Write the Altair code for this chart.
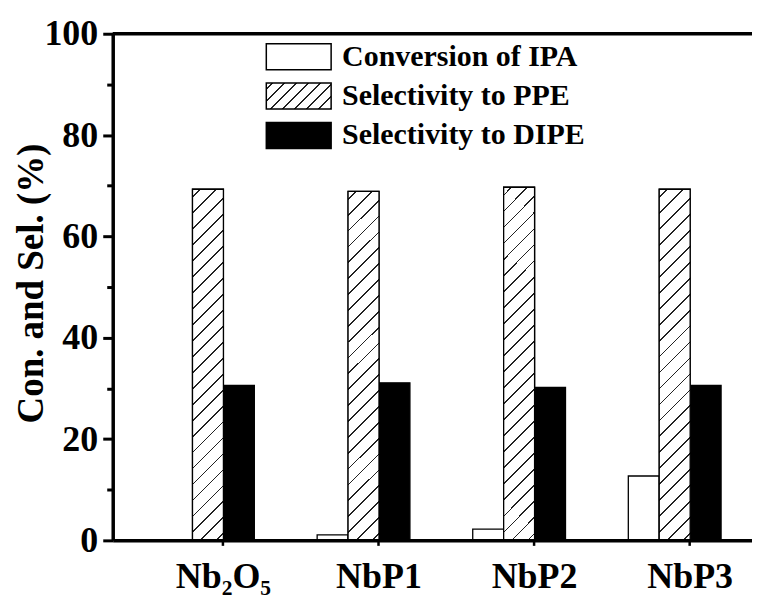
import altair as alt
import pandas as pd

# ---- data ----
categories = ["Nb\u2082O\u2085", "NbP1", "NbP2", "NbP3"]
series_names = ["Conversion of IPA", "Selectivity to PPE", "Selectivity to DIPE"]
conversion_ipa = [0.0, 1.1, 2.2, 12.7]
selectivity_ppe = [69.3, 68.9, 69.7, 69.3]
selectivity_dipe = [30.6, 31.1, 30.2, 30.6]
y_ticks = list(range(0, 101, 10))

rows = []
for vals, name in zip([conversion_ipa, selectivity_ppe, selectivity_dipe], series_names):
    for c, v in zip(categories, vals):
        rows.append({"cat": c, "series": name, "value": v})
df = pd.DataFrame(rows)

FONT = "Liberation Serif"
PLOT_W, PLOT_H = 641, 508


def hatch(w, h, period, line="#222222", half=0.9):
    """Linear gradient (bbox units) that draws 45-degree '/' hatch lines."""
    s = w + h
    k = s / (w * w + h * h)
    stops = [{"offset": 0, "color": "white"}]
    pos = period / 2.0
    while pos < s:
        a = max(0.0, (pos - half) / s)
        b = min(1.0, (pos + half) / s)
        stops += [
            {"offset": round(a, 5), "color": "white"},
            {"offset": round(a, 5), "color": line},
            {"offset": round(b, 5), "color": line},
            {"offset": round(b, 5), "color": "white"},
        ]
        pos += period
    stops.append({"offset": 1, "color": "white"})
    return {"gradient": "linear", "x1": 0, "y1": 0,
            "x2": round(w * k, 5), "y2": round(h * k, 5), "stops": stops}


def as_expr(g):
    stops = ",".join("{offset:%s,color:'%s'}" % (s["offset"], s["color"]) for s in g["stops"])
    return ("{gradient:'linear',x1:%s,y1:%s,x2:%s,y2:%s,stops:[%s]}"
            % (g["x1"], g["y1"], g["x2"], g["y2"], stops))


bar_hatch = hatch(31, 352, 16)
legend_hatch = hatch(65, 26, 12)

x_enc = alt.X(
    "cat:N",
    sort=categories,
    scale=alt.Scale(domain=categories, paddingInner=0.205, paddingOuter=0.157, align=1),
    axis=alt.Axis(
        title=None, labelAngle=0, labelFont=FONT, labelFontSize=36, labelFontWeight="bold",
        labelColor="black", labelPadding=14, tickSize=5, tickWidth=2.5, tickColor="black",
        domainColor="black", domainWidth=3.5, zindex=1,
    ),
)
xoff_enc = alt.XOffset(
    "series:N",
    scale=alt.Scale(domain=series_names + ["_gap"], paddingInner=0, paddingOuter=0),
)
y_enc = alt.Y(
    "value:Q",
    scale=alt.Scale(domain=[0, 100], nice=False, zero=True),
    axis=alt.Axis(
        title="Con. and Sel. (%)", titleFont=FONT, titleFontSize=37, titleFontWeight="bold",
        titleColor="black", titleX=-62, titleY=250,
        values=y_ticks, labelExpr="datum.value % 20 === 0 ? datum.label : ''",
        labelFont=FONT, labelFontSize=36, labelFontWeight="bold", labelColor="black",
        labelPadding=5, grid=False,
        tickSize={"condition": {"test": "datum.value % 20 === 0", "value": 10}, "value": 6},
        tickWidth=3, tickColor="black", domainColor="black", domainWidth=3.5, zindex=1,
    ),
)

legend = alt.Legend(
    title=None, orient="none", legendX=152, legendY=8, padding=0,
    symbolType="M-1,-1H4V1H-1Z", symbolSize=676,
    symbolStrokeColor="black", symbolStrokeWidth=1.5, symbolOpacity=1,
    labelFont=FONT, labelFontSize=30, labelFontWeight="bold", labelColor="black",
    labelLimit=600, labelOffset=48, rowPadding=7.5,
)

base = alt.Chart(df)

bars = base.mark_bar(stroke="black", strokeWidth=1.3, opacity=1).encode(
    x=x_enc,
    xOffset=xoff_enc,
    y=y_enc,
    fill=alt.Fill(
        "series:N",
        scale=alt.Scale(domain=series_names,
                        range=["white", {"expr": as_expr(legend_hatch)}, "black"]),
        legend=legend,
    ),
)

hatched = base.transform_filter(
    alt.datum.series == "Selectivity to PPE"
).mark_bar(stroke="black", strokeWidth=1.3, fill=bar_hatch, opacity=1).encode(
    x=x_enc, xOffset=xoff_enc, y=y_enc,
)

top_line = alt.Chart(pd.DataFrame({"top": [100]})).mark_rule(
    color="black", strokeWidth=3.5
).encode(y=alt.Y("top:Q", scale=alt.Scale(domain=[0, 100], nice=False)))

chart = alt.layer(bars, hatched, top_line).properties(
    width=PLOT_W,
    height=PLOT_H,
    autosize=alt.AutoSizeParams(type="none"),
    padding={"left": 105, "top": 25, "right": 0, "bottom": 60},
    background="white",
).configure_view(strokeWidth=0)

chart.save("out.html", embed_options={"renderer": "svg", "actions": False})
